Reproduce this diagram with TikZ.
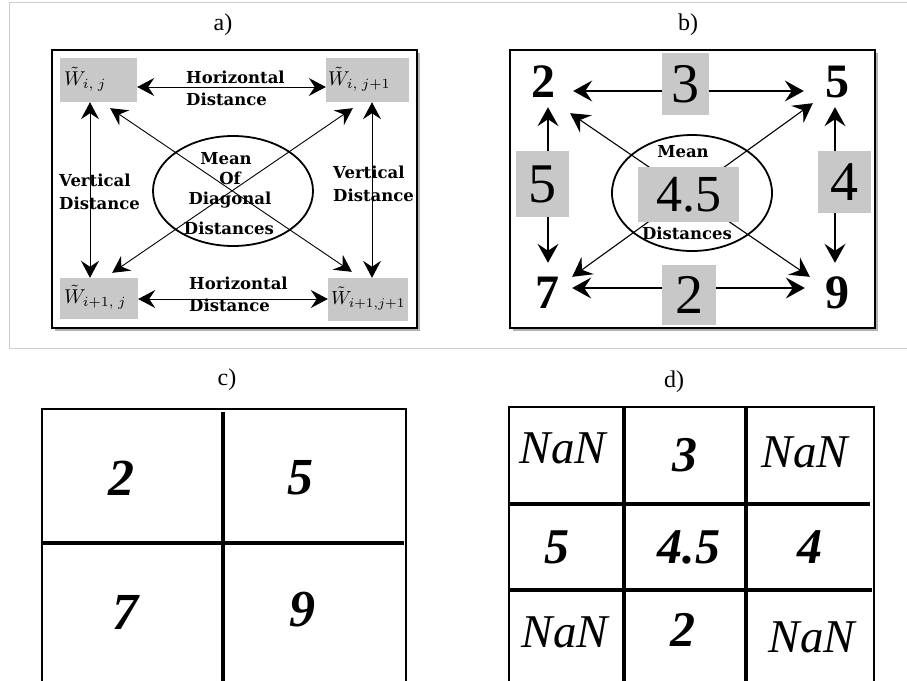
\RequirePackage{fix-cm}
\documentclass[tikz,border=0pt]{standalone}
\usepackage{fontspec}
\setmainfont{Liberation Serif}
\newfontfamily\lblfont{DejaVu Serif}
\usetikzlibrary{arrows.meta,shadows,shapes.geometric}

\definecolor{cellgray}{RGB}{200,200,200}
\definecolor{rulegray}{RGB}{205,205,205}

\begin{document}
\begin{tikzpicture}[x=1pt,y=-1pt,
  tipA/.tip={Stealth[length=17pt,width=18pt,inset=6pt]},
  tipB/.tip={Stealth[length=19pt,width=21pt,inset=7pt]},
  panelframe/.style={draw=black,line width=2.2pt,fill=white,inner sep=0pt,
    drop shadow={shadow xshift=2.5pt,shadow yshift=-3pt,opacity=0.3,fill=black}},
  wbox/.style={fill=cellgray,inner sep=0pt},
  wlbl/.style={inner sep=0pt},
  lbl/.style={inner sep=0pt,font=\lblfont\bfseries\fontsize{16.5}{18}\selectfont},
  title/.style={inner sep=0pt,font=\fontsize{24}{28}\selectfont},
  connA/.style={line width=0.9pt,tipA-tipA},
  connB/.style={line width=1.1pt,tipB-tipB},
  ring/.style={draw=black,ellipse,line width=1.8pt,inner sep=0pt},
  corner/.style={inner sep=0pt,minimum width=30pt,minimum height=36pt,
    font=\bfseries\fontsize{48}{52}\selectfont},
  valbox/.style={fill=cellgray,inner sep=0pt,font=\fontsize{56}{60}\selectfont},
  gridthin/.style={line width=1.3pt},
  gridthick/.style={line width=3.6pt},
  cellnum/.style={inner sep=0pt,font=\bfseries\itshape\fontsize{52}{56}\selectfont},
  cellbig/.style={inner sep=0pt,font=\bfseries\itshape\fontsize{50}{54}\selectfont},
  cellnan/.style={inner sep=0pt,font=\itshape\fontsize{47}{50}\selectfont}
]
\useasboundingbox (0,0) rectangle (907,680);

% light frame around the upper row
\draw[rulegray,line width=1pt] (907,2) -- (9,2) -- (9,348) -- (907,348);

% ---------------- a) ----------------
\node[title] (ta) at (223,25) {a)};
\node[panelframe,minimum width=365pt,minimum height=278pt] (fa) at (234.5,189) {};

\node[wbox,minimum width=77pt,minimum height=44pt] (b11) at (98.5,80) {};
\node[wbox,minimum width=83pt,minimum height=44pt] (b12) at (367.5,80) {};
\node[wbox,minimum width=78pt,minimum height=41pt] (b21) at (99,298.5) {};
\node[wbox,minimum width=80pt,minimum height=43pt] (b22) at (368,299.5) {};

\node[wlbl,anchor=west] (w11) at ([xshift=4pt,yshift=1pt]b11.west) {\scalebox{2}{$\tilde{W}_{i,\;j}$}};
\node[wlbl,anchor=west] (w12) at ([xshift=2pt,yshift=1pt]b12.west) {\scalebox{2}{$\tilde{W}_{i,\;j+1}$}};
\node[wlbl,anchor=west] (w21) at ([xshift=4pt,yshift=1pt]b21.west) {\scalebox{2}{$\tilde{W}_{i+1,\;j}$}};
\node[wlbl,anchor=west] (w22) at ([xshift=3pt,yshift=1pt]b22.west) {\scalebox{1.9}{$\tilde{W}_{i+1,j+1}$}};

% distances between neighbouring cells
\draw[connA] ([yshift=-7pt]b11.east) -- ([yshift=-7pt]b12.west);
\draw[connA] ([yshift=-0.5pt]b21.east) -- ([yshift=0.5pt]b22.west);
\draw[connA] ([xshift=-8.5pt]b11.south) -- ([xshift=-9pt]b21.north);
\draw[connA] ([xshift=4.5pt]b12.south) -- ([xshift=4pt]b22.north);
% diagonal distances
\draw[connA] ([xshift=-27pt,yshift=-6pt]b11.south east) -- ([xshift=24pt,yshift=6pt]b22.north west);
\draw[connA] ([xshift=27pt,yshift=-6pt]b12.south west) -- ([xshift=-26pt,yshift=5pt]b21.north east);

\node[ring,minimum width=160pt,minimum height=110pt] (ea) at (233,191) {};

\node[lbl,anchor=west] (ht1) at (186,77) {Horizontal};
\node[lbl,anchor=west] (ht2) at (186,99) {Distance};
\node[lbl,anchor=west] (hb1) at (189,283) {Horizontal};
\node[lbl,anchor=west] (hb2) at (189,305) {Distance};
\node[lbl,anchor=west] (vl1) at (59,180) {Vertical};
\node[lbl,anchor=west] (vl2) at (59,203) {Distance};
\node[lbl,anchor=west] (vr1) at (333,172) {Vertical};
\node[lbl,anchor=west] (vr2) at (333,195) {Distance};
\node[lbl] (m1) at (226,159) {Mean};
\node[lbl] (m2) at (230,178) {Of};
\node[lbl] (m3) at (230,200) {Diagonal};
\node[lbl] (m4) at (229,228) {Distances};

% ---------------- b) ----------------
\node[title] (tb) at (688,25) {b)};
\node[panelframe,minimum width=365pt,minimum height=278pt] (fb) at (692.5,189) {};

\node[corner] (n2) at (543,82) {2};
\node[corner] (n5) at (837,82) {5};
\node[corner] (n7) at (547,293) {7};
\node[corner] (n9) at (837,293) {9};

\draw[connB] ([xshift=15pt,yshift=-9pt]n2.east) -- ([xshift=-18pt,yshift=-9pt]n5.west);
\draw[connB] ([xshift=10pt,yshift=5pt]n7.east) -- ([xshift=-17pt,yshift=5pt]n9.west);
\draw[connB] ([xshift=5pt,yshift=-7pt]n2.south) -- ([xshift=1pt,yshift=12pt]n7.north);
\draw[connB] ([xshift=-2pt,yshift=-7pt]n5.south) -- ([xshift=-2pt,yshift=12pt]n9.north);
\draw[connB] ([xshift=12pt,yshift=-13pt]n2.south east) -- ([xshift=-12pt,yshift=-2pt]n9.north west);
\draw[connB] ([xshift=-9pt,yshift=-3pt]n5.south west) -- ([xshift=10pt,yshift=-2pt]n7.north east);

\node[ring,minimum width=160pt,minimum height=116pt] (eb) at (692,193) {};
\node[lbl] (bm) at (683,152) {Mean};
\node[lbl] (bd) at (687,233) {Distances};

\node[valbox,minimum width=47pt,minimum height=62pt] (g3) at (685.5,84) {3};
\node[valbox,minimum width=53pt,minimum height=66pt] (g5) at (542.5,184) {5};
\node[valbox,minimum width=53pt,minimum height=62pt] (g4) at (844.5,182) {4};
\node[valbox,minimum width=101pt,minimum height=55pt,font=\fontsize{52}{56}\selectfont] (g45) at (688.5,194.5) {4.5};
\node[valbox,minimum width=54pt,minimum height=60pt] (g2) at (689,295) {2};

% ---------------- c) ----------------
\node[title] (tc) at (227,380) {c)};
\draw[gridthin] (42,682) -- (42,409) -- (406,409) -- (406,682);
\draw[gridthick] (223,412) -- (223,682);
\draw[gridthick] (42,543) -- (404,543);
\node[cellnum] (c11) at (121,478) {2};
\node[cellnum] (c12) at (300,478) {5};
\node[cellnum] (c21) at (125,612) {7};
\node[cellnum] (c22) at (302,610) {9};

% ---------------- d) ----------------
\node[title] (td) at (674,382) {d)};
\draw[gridthin] (509,682) -- (509,407) -- (874,407) -- (874,682);
\draw[gridthick] (624,407) -- (624,682);
\draw[gridthick] (746,407) -- (746,682);
\draw[gridthick] (509,504) -- (870,504);
\draw[gridthick] (509,590) -- (872,590);
\node[cellnan] (d11) at (563,448) {NaN};
\node[cellbig] (d12) at (685,455) {3};
\node[cellnan] (d13) at (805,452) {NaN};
\node[cellbig] (d21) at (557,547) {5};
\node[cellbig] (d22) at (689,547) {4.5};
\node[cellbig] (d23) at (810,547) {4};
\node[cellnan] (d31) at (565,632) {NaN};
\node[cellbig] (d32) at (683,630) {2};
\node[cellnan] (d33) at (812,637) {NaN};
\end{tikzpicture}
\end{document}
